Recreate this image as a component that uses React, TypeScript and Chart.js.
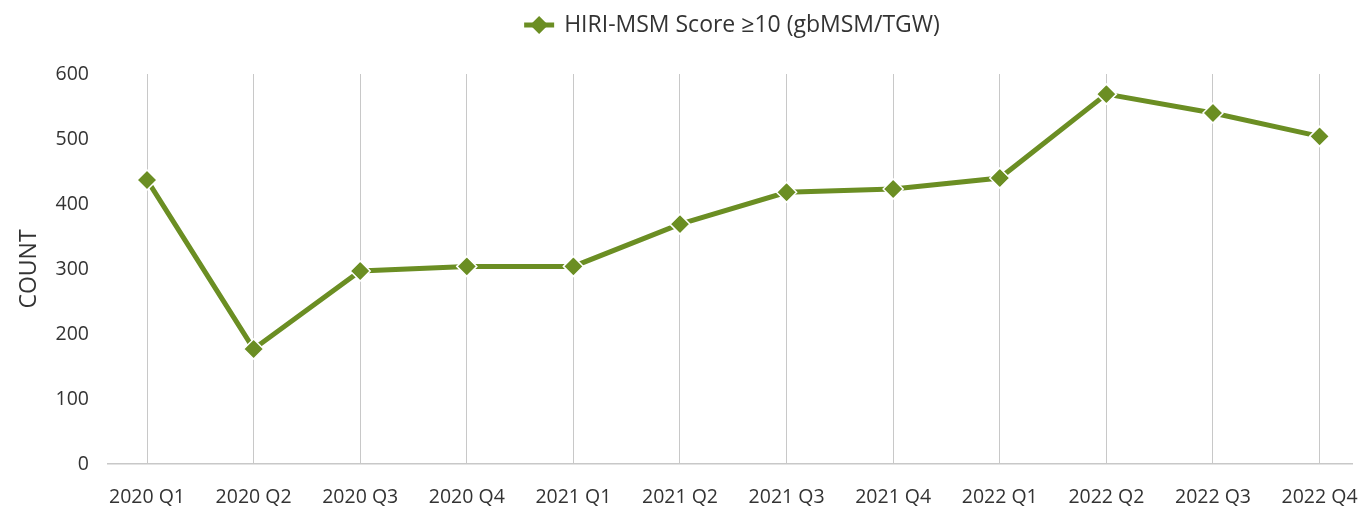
import React, { useEffect, useRef } from "react";
import { Chart, registerables } from "chart.js";

Chart.register(...registerables);

const categories = [
  "2020 Q1", "2020 Q2", "2020 Q3", "2020 Q4",
  "2021 Q1", "2021 Q2", "2021 Q3", "2021 Q4",
  "2022 Q1", "2022 Q2", "2022 Q3", "2022 Q4",
];
const hiriValues = [437, 177, 297, 304, 304, 369, 418, 423, 440, 569, 540, 504];
const seriesLabel = "HIRI-MSM Score \u226510 (gbMSM/TGW)";
const yTicks = [0, 100, 200, 300, 400, 500, 600];

const GREEN = "#6B8E23";
const FONT = "'Open Sans', 'Noto Sans', sans-serif";
const TEXT = "#333333";

export default function App() {
  const ref = useRef<HTMLCanvasElement | null>(null);

  useEffect(() => {
    document.body.style.margin = "0";
    const canvas = ref.current!;
    const legendPlugin = {
      id: "customLegend",
      afterDraw(chart: any) {
        const ctx = chart.ctx;
        ctx.save();
        ctx.font = `23px ${FONT}`;
        const tw = ctx.measureText(seriesLabel).width;
        const symW = 30;
        const gap = 10;
        const total = symW + gap + tw;
        const cx = 732;
        const x0 = cx - total / 2;
        const y = 25;
        ctx.strokeStyle = GREEN;
        ctx.lineWidth = 5;
        ctx.beginPath();
        ctx.moveTo(x0, y);
        ctx.lineTo(x0 + symW, y);
        ctx.stroke();
        const mx = x0 + symW / 2;
        const r = 9;
        ctx.fillStyle = GREEN;
        ctx.beginPath();
        ctx.moveTo(mx, y - r);
        ctx.lineTo(mx + r, y);
        ctx.lineTo(mx, y + r);
        ctx.lineTo(mx - r, y);
        ctx.closePath();
        ctx.fill();
        ctx.fillStyle = TEXT;
        ctx.textBaseline = "middle";
        ctx.textAlign = "left";
        ctx.fillText(seriesLabel, x0 + symW + gap, y);
        ctx.restore();
      },
    };

    const chart = new Chart(canvas, {
      type: "line",
      data: {
        datasets: [
          {
            label: seriesLabel,
            data: hiriValues.map((v, i) => ({ x: i, y: v })),
            borderColor: GREEN,
            backgroundColor: GREEN,
            borderWidth: 5,
            pointStyle: "rectRot",
            pointRadius: 10,
            pointBorderColor: "#ffffff",
            pointBorderWidth: 1.5,
            pointBackgroundColor: GREEN,
            tension: 0,
          },
        ],
      },
      options: {
        animation: false,
        responsive: false,
        devicePixelRatio: 1,
        layout: { padding: { top: 74, right: 7, bottom: 0, left: 0 } },
        plugins: {
          legend: { display: false },
          tooltip: { enabled: false },
        },
        scales: {
          x: {
            type: "linear",
            min: -0.366,
            max: 11.309,
            afterBuildTicks(scale: any) {
              scale.ticks = categories.map((_, i) => ({ value: i }));
            },
            afterFit(scale: any) {
              scale.height = 44;
              scale.paddingLeft = 0;
              scale.paddingRight = 0;
            },
            ticks: {
              autoSkip: false,
              maxRotation: 0,
              padding: 22,
              color: TEXT,
              font: { family: FONT, size: 19.5 },
              callback: (v: any) => categories[Math.round(Number(v))] ?? "",
            },
            grid: {
              color: "#c8c8c8",
              lineWidth: 1,
              drawTicks: false,
            },
            border: { display: true, color: "#c8c8c8", width: 1.5 },
          },
          y: {
            min: 0,
            max: 600,
            afterBuildTicks(scale: any) {
              scale.ticks = yTicks.map((v) => ({ value: v }));
            },
            afterFit(scale: any) {
              scale.width = 108;
              scale.paddingTop = 0;
              scale.paddingBottom = 0;
            },
            ticks: {
              padding: 19,
              color: TEXT,
              font: { family: FONT, size: 19.5 },
            },
            grid: { display: false, drawTicks: false },
            border: { display: false },
            title: {
              display: true,
              text: "COUNT",
              color: TEXT,
              font: { family: FONT, size: 23 },
              padding: { top: 16, bottom: 0 },
            },
          },
        },
      },
      plugins: [legendPlugin],
    });
    return () => chart.destroy();
  }, []);

  return (
    <div style={{ width: 1364, height: 508 }}>
      <canvas ref={ref} width={1364} height={508} />
    </div>
  );
}
